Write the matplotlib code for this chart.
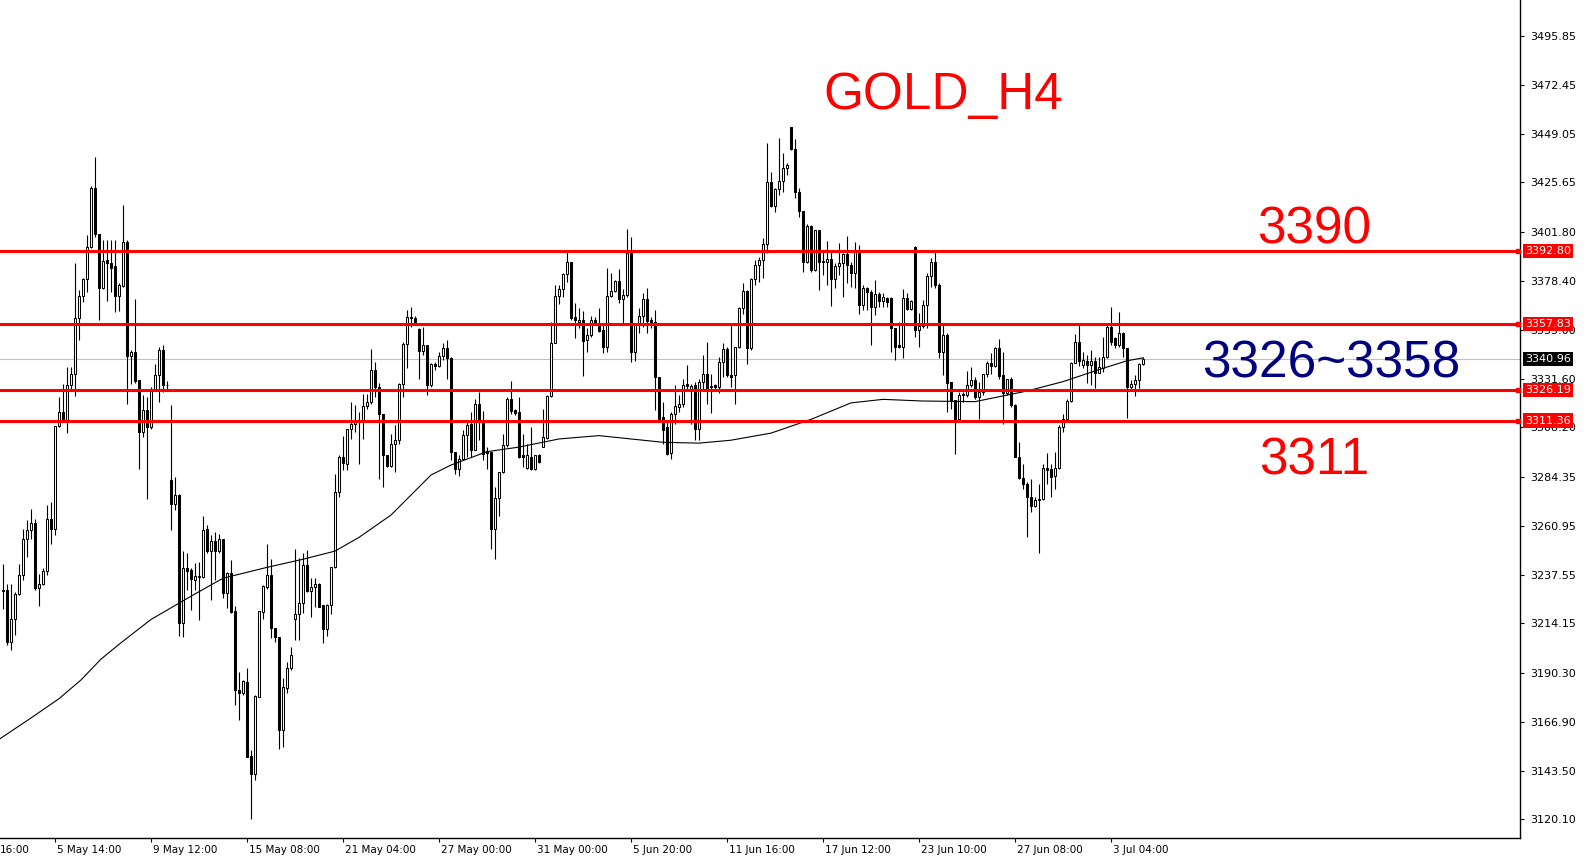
import matplotlib
matplotlib.use("Agg")
import matplotlib.pyplot as plt
import matplotlib.transforms as mtransforms
import numpy as np

# GOLD H4 candles (oldest first)
opens = [3230.0, 3230.0, 3205.2, 3216.4, 3228.1, 3237.2, 3254.8, 3258.8, 3262.5, 3231.1,
         3233.2, 3239.1, 3264.4, 3259.6, 3308.7, 3315.3, 3311.9, 3328.7, 3334.0, 3360.4,
         3371.1, 3379.1, 3394.8, 3422.8, 3400.7, 3375.1, 3388.4, 3386.8, 3385.5, 3371.3,
         3376.1, 3396.9, 3342.5, 3344.1, 3330.8, 3306.0, 3316.4, 3308.1, 3326.8, 3333.2,
         3345.2, 3328.7, 3283.1, 3271.6, 3275.9, 3214.4, 3240.5, 3239.7, 3234.9, 3236.5,
         3236.5, 3259.4, 3249.0, 3253.8, 3249.0, 3254.4, 3228.5, 3238.1, 3220.0, 3182.4,
         3180.5, 3186.1, 3150.4, 3142.1, 3178.9, 3219.7, 3231.7, 3237.3, 3211.7, 3207.4,
         3162.9, 3182.9, 3192.5, 3216.0, 3218.4, 3224.0, 3242.1, 3229.8, 3231.4, 3233.0,
         3222.9, 3211.2, 3222.9, 3241.0, 3277.0, 3294.1, 3290.8, 3307.6, 3309.7, 3310.8,
         3310.8, 3318.4, 3320.1, 3335.6, 3327.6, 3314.5, 3294.8, 3289.5, 3300.1, 3302.0,
         3329.2, 3348.1, 3361.2, 3360.4, 3355.3, 3344.9, 3347.5, 3328.4, 3338.5, 3337.7,
         3342.4, 3346.0, 3341.2, 3296.4, 3288.4, 3293.2, 3304.4, 3309.7, 3297.5, 3319.3,
         3311.6, 3296.9, 3296.4, 3259.6, 3274.5, 3286.8, 3299.6, 3321.6, 3316.4, 3315.3,
         3294.8, 3288.9, 3294.0, 3288.4, 3294.8, 3298.8, 3303.1, 3323.3, 3348.4, 3371.2,
         3374.4, 3381.6, 3387.3, 3360.9, 3358.8, 3359.6, 3350.0, 3352.4, 3359.9, 3358.3,
         3354.8, 3346.5, 3371.3, 3373.6, 3378.3, 3369.6, 3371.6, 3391.9, 3344.4, 3357.2,
         3361.6, 3369.6, 3359.6, 3358.8, 3332.4, 3313.2, 3308.4, 3295.9, 3314.5, 3318.0,
         3319.3, 3328.9, 3326.0, 3328.4, 3307.6, 3330.0, 3333.7, 3327.6, 3328.4, 3327.6,
         3339.3, 3345.7, 3333.2, 3333.2, 3346.5, 3365.2, 3373.5, 3346.0, 3379.1, 3386.0,
         3388.4, 3395.9, 3425.7, 3414.5, 3422.5, 3426.3, 3432.4, 3452.1, 3441.5, 3421.2,
         3411.9, 3387.3, 3404.7, 3383.6, 3402.8, 3387.9, 3387.6, 3388.7, 3379.1, 3385.5,
         3387.1, 3391.3, 3386.0, 3382.0, 3393.2, 3366.8, 3374.8, 3373.2, 3366.0, 3372.1,
         3368.9, 3370.0, 3370.0, 3355.6, 3347.6, 3346.8, 3370.0, 3364.9, 3394.5, 3354.8,
         3356.8, 3366.8, 3380.8, 3387.6, 3376.4, 3344.4, 3352.4, 3330.0, 3321.2, 3312.4,
         3324.4, 3323.6, 3328.4, 3330.8, 3322.5, 3325.2, 3333.6, 3339.2, 3337.6, 3346.0,
         3333.2, 3324.8, 3331.2, 3318.8, 3294.0, 3284.1, 3281.2, 3274.8, 3270.4, 3273.2,
         3273.6, 3288.9, 3288.0, 3284.8, 3288.9, 3308.4, 3312.4, 3320.9, 3339.2, 3348.9,
         3338.1, 3340.1, 3338.1, 3340.1, 3334.4, 3336.5, 3342.1, 3356.5, 3350.9, 3347.7,
         3353.3, 3346.1, 3327.7, 3328.9, 3330.9, 3338.5]
highs = [3242.8, 3233.2, 3233.2, 3229.2, 3242.8, 3259.6, 3263.6, 3269.2, 3264.4, 3238.0,
         3240.7, 3270.8, 3272.4, 3308.7, 3322.8, 3329.2, 3337.2, 3337.2, 3386.8, 3374.0,
         3379.6, 3400.4, 3423.9, 3438.0, 3400.7, 3398.0, 3398.0, 3398.0, 3398.0, 3377.2,
         3414.8, 3398.0, 3345.2, 3369.5, 3330.8, 3323.6, 3322.8, 3327.6, 3338.5, 3346.8,
         3347.6, 3330.5, 3318.8, 3284.4, 3276.4, 3249.0, 3248.0, 3240.5, 3242.9, 3243.7,
         3265.6, 3261.3, 3256.5, 3258.1, 3257.0, 3254.4, 3238.9, 3244.5, 3222.4, 3190.9,
         3187.2, 3192.5, 3153.6, 3180.0, 3220.0, 3232.5, 3252.2, 3244.8, 3211.7, 3207.4,
         3187.7, 3195.7, 3202.9, 3249.6, 3245.3, 3248.0, 3249.3, 3235.7, 3235.7, 3233.3,
         3222.9, 3223.2, 3241.3, 3285.8, 3294.9, 3304.0, 3307.6, 3320.4, 3318.8, 3315.7,
         3324.4, 3324.1, 3345.9, 3339.6, 3329.5, 3314.8, 3294.8, 3304.8, 3309.2, 3329.5,
         3349.2, 3364.4, 3366.0, 3361.5, 3355.6, 3356.4, 3347.5, 3339.1, 3339.6, 3344.3,
         3348.4, 3350.0, 3341.7, 3296.4, 3294.8, 3306.8, 3310.8, 3315.6, 3321.6, 3325.2,
         3316.1, 3298.8, 3296.4, 3279.6, 3286.8, 3305.2, 3322.8, 3330.5, 3317.2, 3322.8,
         3305.2, 3300.4, 3308.4, 3294.8, 3295.6, 3316.8, 3323.6, 3358.8, 3376.4, 3376.4,
         3382.4, 3392.4, 3387.6, 3367.6, 3365.2, 3364.1, 3355.6, 3361.5, 3360.9, 3365.2,
         3357.2, 3384.4, 3382.0, 3378.8, 3383.9, 3374.4, 3403.1, 3399.6, 3358.0, 3365.2,
         3372.4, 3375.2, 3361.2, 3364.7, 3332.4, 3320.4, 3311.6, 3315.6, 3328.7, 3323.6,
         3331.6, 3338.0, 3329.2, 3330.0, 3331.6, 3342.8, 3349.2, 3334.0, 3328.9, 3342.0,
         3348.4, 3346.5, 3358.0, 3346.5, 3366.0, 3377.5, 3374.0, 3379.6, 3388.4, 3390.0,
         3398.8, 3444.4, 3430.8, 3422.8, 3446.8, 3439.6, 3434.8, 3452.1, 3446.3, 3422.8,
         3411.9, 3405.5, 3405.2, 3402.8, 3402.8, 3393.2, 3397.7, 3393.2, 3386.8, 3396.4,
         3391.9, 3399.9, 3387.6, 3397.2, 3395.6, 3376.4, 3375.6, 3374.0, 3378.8, 3373.2,
         3372.4, 3370.8, 3370.8, 3355.6, 3358.8, 3374.4, 3372.4, 3369.2, 3395.2, 3362.8,
         3369.2, 3382.0, 3389.2, 3392.4, 3377.2, 3357.2, 3353.2, 3330.0, 3321.2, 3325.2,
         3325.2, 3335.3, 3337.2, 3332.4, 3330.0, 3334.0, 3340.1, 3343.6, 3346.8, 3350.4,
         3344.4, 3331.6, 3332.4, 3319.6, 3301.2, 3290.8, 3282.0, 3283.2, 3274.8, 3281.2,
         3290.8, 3296.0, 3290.8, 3296.4, 3309.2, 3314.5, 3322.0, 3339.6, 3352.9, 3357.3,
         3344.5, 3342.9, 3345.3, 3342.1, 3342.1, 3351.7, 3358.1, 3366.1, 3351.7, 3363.7,
         3354.1, 3346.1, 3330.9, 3333.3, 3338.9, 3342.1]
lows = [3221.2, 3203.6, 3201.5, 3208.4, 3227.6, 3234.8, 3246.0, 3254.8, 3230.0, 3222.3,
        3232.4, 3237.2, 3252.4, 3256.7, 3308.4, 3311.3, 3305.5, 3326.8, 3323.1, 3350.0,
        3368.1, 3373.2, 3394.0, 3399.6, 3359.6, 3374.3, 3368.7, 3373.2, 3363.6, 3364.1,
        3375.6, 3319.6, 3329.2, 3329.5, 3288.4, 3303.6, 3274.0, 3307.6, 3326.3, 3320.4,
        3325.2, 3326.8, 3258.8, 3268.4, 3207.9, 3207.7, 3230.1, 3220.5, 3230.1, 3215.7,
        3235.7, 3248.0, 3225.3, 3234.9, 3247.7, 3226.1, 3221.3, 3219.2, 3174.9, 3167.7,
        3179.7, 3149.8, 3120.5, 3138.9, 3178.9, 3216.0, 3230.4, 3206.9, 3205.3, 3154.1,
        3154.9, 3180.5, 3192.0, 3206.1, 3206.1, 3218.9, 3229.3, 3217.0, 3222.1, 3222.1,
        3204.5, 3208.0, 3218.4, 3240.7, 3274.9, 3287.6, 3287.6, 3302.4, 3306.0, 3290.8,
        3302.4, 3317.2, 3319.6, 3322.5, 3283.2, 3279.6, 3289.2, 3289.2, 3286.8, 3300.4,
        3322.8, 3336.4, 3356.4, 3357.2, 3331.6, 3342.8, 3323.6, 3327.3, 3335.6, 3337.2,
        3340.4, 3331.6, 3292.4, 3286.0, 3284.8, 3292.8, 3294.0, 3294.0, 3297.2, 3302.0,
        3292.4, 3288.0, 3250.0, 3245.2, 3265.5, 3286.4, 3298.8, 3314.8, 3314.0, 3293.7,
        3289.2, 3288.4, 3287.6, 3287.9, 3291.1, 3298.8, 3302.8, 3322.8, 3348.4, 3367.3,
        3370.5, 3378.0, 3359.6, 3350.8, 3355.6, 3332.9, 3344.4, 3351.6, 3357.7, 3354.0,
        3343.6, 3344.4, 3370.5, 3373.2, 3368.0, 3358.0, 3370.8, 3339.3, 3340.1, 3353.2,
        3356.4, 3353.2, 3355.6, 3316.4, 3312.4, 3300.4, 3294.8, 3293.2, 3310.0, 3315.6,
        3318.0, 3326.0, 3310.0, 3302.0, 3302.0, 3326.0, 3319.6, 3315.1, 3326.0, 3324.7,
        3332.4, 3332.4, 3327.6, 3319.6, 3346.0, 3362.5, 3338.5, 3345.5, 3376.4, 3378.0,
        3379.6, 3391.6, 3414.0, 3411.6, 3419.6, 3421.2, 3429.2, 3441.2, 3418.0, 3409.2,
        3382.8, 3386.8, 3382.8, 3383.3, 3374.0, 3381.2, 3376.4, 3366.3, 3374.8, 3381.2,
        3370.8, 3377.2, 3375.6, 3374.8, 3362.5, 3364.7, 3364.4, 3347.6, 3362.0, 3365.7,
        3366.0, 3366.0, 3344.4, 3340.4, 3346.0, 3341.6, 3364.4, 3364.4, 3351.6, 3346.8,
        3355.6, 3355.6, 3375.6, 3374.8, 3341.2, 3333.2, 3315.6, 3317.2, 3295.6, 3312.0,
        3320.4, 3322.8, 3327.6, 3322.0, 3312.0, 3323.6, 3332.4, 3334.0, 3337.2, 3331.6,
        3310.0, 3323.6, 3318.0, 3294.0, 3283.6, 3278.8, 3255.6, 3267.6, 3270.0, 3248.0,
        3273.2, 3281.2, 3274.8, 3278.8, 3288.4, 3306.0, 3311.6, 3320.4, 3338.8, 3337.6,
        3336.5, 3329.3, 3328.5, 3326.9, 3334.1, 3334.9, 3341.3, 3347.7, 3346.1, 3346.9,
        3342.1, 3312.5, 3326.4, 3323.2, 3326.9, 3338.1]
closes = [3229.5, 3205.2, 3216.4, 3228.1, 3237.2, 3254.8, 3258.8, 3262.5, 3231.1, 3233.2,
          3239.1, 3264.4, 3259.6, 3308.7, 3315.3, 3311.9, 3328.7, 3334.0, 3360.4, 3371.1,
          3379.1, 3394.8, 3422.8, 3400.7, 3375.1, 3387.9, 3386.8, 3384.7, 3371.3, 3376.4,
          3396.9, 3342.5, 3344.1, 3330.5, 3306.0, 3316.4, 3308.1, 3326.8, 3333.2, 3345.2,
          3328.4, 3328.5, 3271.6, 3275.9, 3214.3, 3240.5, 3239.4, 3235.2, 3236.8, 3237.0,
          3258.9, 3249.0, 3253.8, 3249.0, 3254.4, 3228.5, 3238.1, 3219.7, 3182.4, 3180.5,
          3186.4, 3150.1, 3142.1, 3179.2, 3220.0, 3232.0, 3237.3, 3211.7, 3207.4, 3162.9,
          3183.4, 3192.5, 3198.9, 3218.4, 3224.0, 3242.1, 3229.8, 3231.7, 3233.0, 3222.1,
          3211.2, 3222.9, 3241.0, 3277.0, 3294.1, 3290.9, 3307.6, 3309.7, 3310.8, 3310.5,
          3318.4, 3320.1, 3335.6, 3327.6, 3314.5, 3294.8, 3289.5, 3300.1, 3302.0, 3329.2,
          3348.1, 3361.2, 3360.4, 3358.8, 3344.9, 3347.5, 3328.4, 3338.5, 3337.7, 3342.4,
          3346.0, 3341.2, 3296.4, 3288.4, 3293.2, 3304.4, 3309.2, 3297.5, 3319.3, 3311.6,
          3295.6, 3296.0, 3259.6, 3274.5, 3286.8, 3299.6, 3321.6, 3316.1, 3315.1, 3294.0,
          3294.0, 3294.8, 3288.4, 3294.8, 3291.6, 3303.6, 3323.3, 3348.4, 3371.2, 3374.4,
          3381.6, 3387.3, 3360.4, 3359.6, 3359.6, 3349.7, 3352.4, 3359.9, 3358.3, 3354.5,
          3346.5, 3371.3, 3373.6, 3378.3, 3369.6, 3371.6, 3391.9, 3344.4, 3357.2, 3361.6,
          3369.6, 3359.3, 3358.8, 3332.1, 3312.4, 3306.8, 3295.6, 3314.5, 3318.3, 3319.3,
          3328.4, 3327.9, 3327.9, 3307.6, 3330.0, 3333.7, 3326.3, 3328.1, 3327.6, 3339.3,
          3345.7, 3333.2, 3332.4, 3346.5, 3365.2, 3373.5, 3346.0, 3379.1, 3386.0, 3388.4,
          3395.9, 3425.7, 3414.5, 3422.5, 3426.3, 3432.4, 3434.0, 3441.5, 3421.2, 3411.9,
          3387.3, 3404.7, 3383.6, 3402.8, 3387.6, 3387.3, 3388.7, 3379.1, 3385.5, 3387.1,
          3391.3, 3386.0, 3382.0, 3393.2, 3366.8, 3374.8, 3373.2, 3366.0, 3372.1, 3368.9,
          3370.5, 3368.4, 3355.6, 3346.8, 3346.8, 3370.0, 3364.9, 3368.9, 3354.8, 3356.8,
          3366.8, 3380.8, 3387.6, 3376.4, 3344.4, 3352.4, 3329.6, 3320.9, 3312.4, 3323.6,
          3323.6, 3328.4, 3330.8, 3322.5, 3325.2, 3333.6, 3339.2, 3337.6, 3346.0, 3332.8,
          3324.8, 3331.2, 3318.8, 3294.0, 3284.0, 3281.2, 3274.8, 3270.4, 3273.2, 3274.0,
          3288.9, 3287.6, 3284.4, 3288.9, 3308.4, 3312.4, 3320.9, 3339.2, 3348.9, 3340.1,
          3340.5, 3338.1, 3340.0, 3334.4, 3337.0, 3342.1, 3356.5, 3349.3, 3347.7, 3353.3,
          3346.1, 3327.7, 3328.9, 3330.9, 3338.5, 3340.96]

# moving average line, sampled from the chart (bar index, price)
ma_bar = [-0.75, 6.8, 14, 19.5, 24.5, 29.6, 37, 46.75, 55, 66, 75, 83, 89, 97, 107, 112,
          121, 129, 139, 149, 157, 165, 174, 182, 192, 202, 212, 220, 230, 243, 256, 265,
          275, 281, 285]
ma_val = [3158.8, 3168.5, 3178.0, 3187.0, 3197.0, 3205.0, 3216.0, 3226.9, 3235.8, 3241.0,
          3244.9, 3248.8, 3255.4, 3266.1, 3285.3, 3290.1, 3296.5, 3298.7, 3302.6, 3304.2,
          3302.6, 3301.0, 3300.6, 3302.0, 3305.4, 3312.0, 3319.9, 3321.6, 3320.8, 3320.5,
          3325.6, 3330.1, 3336.5, 3340.1, 3341.5]

# the first label is only partly visible at the left edge of the chart
edge_label = '16:00'
date_bars = [13, 37, 61, 85, 109, 133, 157, 181, 205, 229, 253, 277]
date_labels = ['5 May 14:00', '9 May 12:00', '15 May 08:00', '21 May 04:00',
               '27 May 00:00', '31 May 00:00', '5 Jun 20:00', '11 Jun 16:00', '17 Jun 12:00',
               '23 Jun 10:00', '27 Jun 08:00', '3 Jul 04:00']

price_ticks = [3495.85, 3472.45, 3449.05, 3425.65, 3401.80, 3378.40, 3355.00, 3331.60,
               3308.20, 3284.35, 3260.95, 3237.55, 3214.15, 3190.30, 3166.90, 3143.50, 3120.10]
levels = [3392.80, 3357.83, 3326.19, 3311.36]
last_price = 3340.96

W, H = 1586, 858
fig = plt.figure(figsize=(W / 100, H / 100), dpi=100)
fig.patch.set_facecolor('white')
ax = fig.add_axes([0, 20 / H, 1520 / W, 838 / H])

o = np.array(opens)
c = np.array(closes)
x = np.arange(len(o))
up = c >= o

ax.axhline(last_price, color='#c0c0c0', lw=0.8, zorder=1)
ax.vlines(x, lows, highs, color='black', lw=0.8, zorder=2)
ax.bar(x, np.abs(c - o), bottom=np.minimum(o, c), width=0.55,
       color=np.where(up, 'white', 'black'), edgecolor='black', lw=0.75, zorder=3)
ax.plot(ma_bar, ma_val, color='black', lw=0.8, zorder=4)

trans = mtransforms.blended_transform_factory(ax.transAxes, ax.transData)
for lv in levels:
    ax.axhline(lv, color='#ff0000', lw=2.2, zorder=5)
    ax.plot([1 - 2.5 / 1520], [lv], marker='s', ms=3.5, color='#ff0000',
            transform=trans, clip_on=False, zorder=6)
    ax.text(1 + 5 / 1520, lv, f'{lv:.2f}', transform=trans, ha='left', va='center',
            color='white', fontsize=8, zorder=10, clip_on=False,
            bbox=dict(boxstyle='square,pad=0.2', fc='#ff0000', ec='none'))
ax.text(1 + 5 / 1520, last_price, f'{last_price:.2f}', transform=trans, ha='left',
        va='center', color='white', fontsize=8, zorder=10, clip_on=False,
        bbox=dict(boxstyle='square,pad=0.2', fc='black', ec='none'))

ax.yaxis.tick_right()
ax.set_yticks(price_ticks)
ax.set_yticklabels([f'{v:.2f}' for v in price_ticks])
ax.tick_params(axis='y', direction='out', length=3, width=0.8, pad=4, labelsize=8)

ax.set_xticks(date_bars)
ax.set_xticklabels(date_labels, ha='left')
ax.tick_params(axis='x', direction='out', length=3, width=0.8, pad=2, labelsize=7.5)
shift = mtransforms.ScaledTranslation(2 / 100, 0, fig.dpi_scale_trans)
for lab in ax.get_xticklabels():
    lab.set_transform(lab.get_transform() + shift)

ax.annotate(edge_label, xy=(0, 0), xycoords='axes fraction',
            xytext=(0, -5), textcoords='offset points', ha='left', va='top',
            fontsize=7.5, annotation_clip=False)

# limits after the ticks, so the ticks do not widen the view
ax.set_xlim(-0.75, 379.25)
ax.set_ylim(3111.18, 3513.17)

for side in ['top', 'left']:
    ax.spines[side].set_visible(False)
for side in ['right', 'bottom']:
    ax.spines[side].set_linewidth(1)
    ax.spines[side].set_color('black')

font = ['Liberation Sans', 'DejaVu Sans']
fig.text(943 / W, 1 - 109 / H, 'GOLD_H4', color='#ff0000', fontsize=37, family=font,
         ha='center', va='baseline')
fig.text(1314 / W, 1 - 243 / H, '3390', color='#ff0000', fontsize=37, family=font,
         ha='center', va='baseline')
fig.text(1331 / W, 1 - 377 / H, '3326~3358', color='#000080', fontsize=37, family=font,
         ha='center', va='baseline')
fig.text(1314 / W, 1 - 475 / H, '3311', color='#ff0000', fontsize=37, family=font,
         ha='center', va='baseline')

fig.savefig('out.png', dpi=100)
